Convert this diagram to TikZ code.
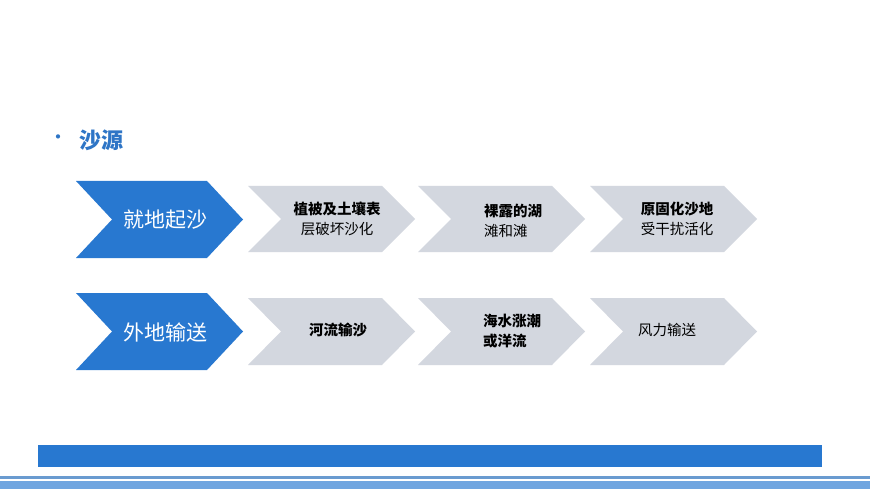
\documentclass[tikz,border=0pt]{standalone}
\usepackage{fontspec}
\newfontfamily\cjk{Noto Sans CJK SC}
\newcommand{\cjkb}{\cjk\bfseries}
\definecolor{mblue}{HTML}{2878D0}
\definecolor{mgray}{HTML}{D3D7DF}
\definecolor{tblue}{HTML}{2E75C6}
\definecolor{lineblue}{HTML}{6A9BD0}
\definecolor{bandblue}{HTML}{6FA5E0}
\tikzset{
 bluechev/.style={fill=mblue,draw=none},
 graychev/.style={fill=mgray,draw=none},
 btxt/.style={text=white,font=\cjk\fontsize{21}{24}\selectfont},
 gtxt/.style={text=black,align=center,font=\cjk\fontsize{14.5}{20}\selectfont},
}
\newcommand{\chev}[6]{% style, x0, y0, x1, y1, depth
 \fill[#1] (#2,#3) -- (#4-#6,#3) -- (#4,{(#3+#5)/2}) -- (#4-#6,#5) -- (#2,#5) -- (#2+#6,{(#3+#5)/2}) -- cycle;}
\begin{document}
\begin{tikzpicture}[x=1pt,y=-1pt]
\useasboundingbox[fill=white] (0,0) rectangle (870,489);
\node[text=tblue,font=\cjk\fontsize{20}{24}\selectfont] (bul) at (58,140) {•};
\node[text=tblue,font=\cjkb\fontsize{22}{26}\selectfont,anchor=west] (title) at (76,140) {沙源};
% row 1
\chev{bluechev}{76}{181}{243}{258}{36}
\chev{graychev}{248}{186}{415}{252}{33}
\chev{graychev}{418}{186}{585}{252}{33}
\chev{graychev}{590}{186}{757}{252}{33}
\node[btxt] (a0) at (165,220) {就地起沙};
\node[gtxt] (a1) at (337,219) {{\cjkb 植被及土壤表}\\层破坏沙化};
\node[gtxt,align=left] (a2) at (513,221) {{\cjkb 裸露的湖}\\滩和滩};
\node[gtxt] (a3) at (677,219) {{\cjkb 原固化沙地}\\受干扰活化};
% row 2
\chev{bluechev}{76}{293}{243}{370}{36}
\chev{graychev}{248}{298}{415}{365}{33}
\chev{graychev}{418}{298}{585}{365}{33}
\chev{graychev}{590}{298}{757}{365}{33}
\node[btxt] (b0) at (165,332) {外地输送};
\node[gtxt,font=\cjkb\fontsize{14.5}{20}\selectfont] (b1) at (338,330) {河流输沙};
\node[gtxt,align=left,font=\cjkb\fontsize{14.5}{20}\selectfont] (b2) at (512,331) {海水涨潮\\或洋流};
\node[gtxt] (b3) at (667,330) {风力输送};
% bottom bars
\fill[mblue] (38,445) rectangle (822,467);
\fill[lineblue] (0,476) rectangle (870,478.5);
\fill[bandblue] (0,481) rectangle (870,489);
\end{tikzpicture}
\end{document}
